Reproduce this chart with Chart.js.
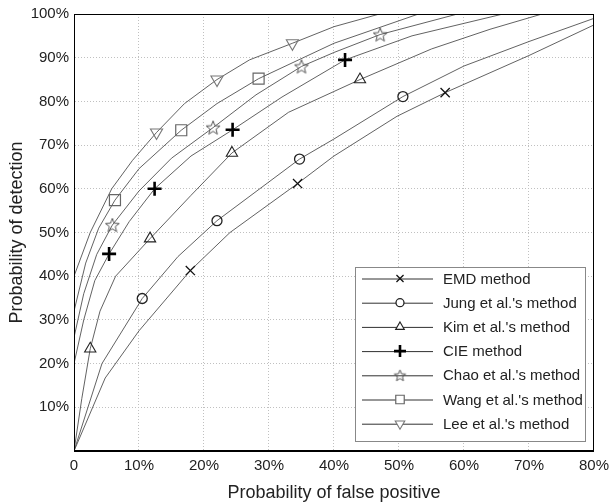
<!DOCTYPE html>
<html>
<head>
<meta charset="utf-8">
<script src="https://cdn.jsdelivr.net/npm/chart.js@4/dist/chart.umd.min.js"></script>
<style>
  html, body { margin: 0; padding: 0; background: #fff; }
</style>
</head>
<body>
<canvas id="roc" width="615" height="504"></canvas>
<script>
// ROC curves: probability of false positive (%) vs probability of detection (%)
const emdFP  = [0, 4.8, 10, 17.9, 24, 34.4, 40, 49.7, 57.1, 70, 80];
const emdPD  = [0, 16.7, 27.5, 41.3, 50, 61.2, 67.5, 76.6, 82, 90.5, 97.5];
const emdMarks = [3, 5, 8];

const jungFP = [0, 4.3, 10.5, 16, 22, 34.7, 40, 50.6, 60, 70, 80];
const jungPD = [0, 20, 34.9, 44.5, 52.7, 66.8, 71.4, 81.1, 88.1, 93.7, 99];
const jungMarks = [2, 4, 5, 7];

const kimFP = [0, 1.2, 2.5, 4, 6.4, 11.7, 18, 24.3, 33, 44, 55, 64, 72];
const kimPD = [0, 12, 23.4, 32, 40, 48.6, 58.5, 68.2, 77.5, 85, 92, 96.5, 100];
const kimMarks = [2, 5, 7, 9];

const cieFP = [0, 1.5, 3.2, 5.4, 8.5, 12.4, 18, 24.4, 32, 41.7, 52, 66];
const ciePD = [20, 30, 39, 45.1, 52.5, 60, 67.5, 73.5, 81, 89.5, 95, 100];
const cieMarks = [3, 5, 7, 9];

const chaoFP = [0, 1.5, 3.5, 5.9, 10, 15, 21.4, 28, 35, 40, 47.1, 59];
const chaoPD = [26, 36, 45, 51.7, 59.5, 67, 74, 81.5, 88, 91.2, 95.3, 100];
const chaoMarks = [3, 6, 8, 10];

const wangFP = [0, 1.8, 3.8, 6.3, 10, 16.5, 22, 28.4, 40, 53];
const wangPD = [32, 43, 51, 57.4, 64.6, 73.4, 79.5, 85.2, 93.3, 100];
const wangMarks = [3, 5, 7];

const leeFP = [0, 2.5, 5.8, 9, 12.7, 17, 22, 27, 33.6, 40, 47];
const leePD = [40, 50, 60, 66.5, 72.9, 79.5, 85, 89.5, 93.3, 97.1, 100];
const leeMarks = [4, 6, 8];

const xTicks = [0, 10, 20, 30, 40, 50, 60, 70, 80];
const yTicks = [10, 20, 30, 40, 50, 60, 70, 80, 90, 100];

// outline five-point star used as a point style
function makeStar(color, outer, inner) {
  const size = Math.ceil(outer * 2 + 3);
  const c = document.createElement('canvas');
  c.width = size; c.height = size;
  const g = c.getContext('2d');
  g.strokeStyle = color;
  g.lineWidth = 1;
  g.beginPath();
  for (let i = 0; i < 10; i++) {
    const r = i % 2 === 0 ? outer : inner;
    const a = -Math.PI / 2 + i * Math.PI / 5;
    const px = size / 2 + r * Math.cos(a), py = size / 2 + 0.6 + r * Math.sin(a);
    if (i === 0) g.moveTo(px, py); else g.lineTo(px, py);
  }
  g.closePath();
  g.stroke();
  return c;
}
const starImg = makeStar('#555', 7.3, 3.1);
const smallStar = makeStar('#555', 6, 2.6);

function series(label, fp, pd, marks, m) {
  return {
    label: label,
    data: fp.map((x, i) => ({ x: x, y: pd[i] })),
    borderColor: '#505050',
    borderWidth: 0.9,
    tension: 0,
    pointStyle: m.style,
    pointRotation: m.rotation || 0,
    pointRadius: ctx => marks.includes(ctx.dataIndex) ? m.radius : 0,
    pointBorderColor: m.color,
    pointBackgroundColor: 'rgba(0,0,0,0)',
    pointBorderWidth: m.width,
    legendRadius: m.legendRadius
  };
}

const datasets = [
  series('EMD method', emdFP, emdPD, emdMarks, { style: 'crossRot', radius: 6.5, legendRadius: 5, color: '#111', width: 1.3 }),
  series("Jung et al.'s method", jungFP, jungPD, jungMarks, { style: 'circle', radius: 5, legendRadius: 4, color: '#222', width: 1.3 }),
  series("Kim et al.'s method", kimFP, kimPD, kimMarks, { style: 'triangle', radius: 6.5, legendRadius: 5, color: '#222', width: 1.1 }),
  series('CIE method', cieFP, ciePD, cieMarks, { style: 'cross', radius: 7, legendRadius: 6, color: '#000', width: 2.6 }),
  series("Chao et al.'s method", chaoFP, chaoPD, chaoMarks, { style: starImg, radius: 8, legendRadius: 6, color: '#555', width: 1 }),
  series("Wang et al.'s method", wangFP, wangPD, wangMarks, { style: 'rect', radius: 7.8, legendRadius: 6, color: '#666', width: 1.2 }),
  series("Lee et al.'s method", leeFP, leePD, leeMarks, { style: 'triangle', rotation: 180, radius: 7, legendRadius: 5.5, color: '#777', width: 1.1 })
];

const frameAndLegend = {
  id: 'frameAndLegend',
  afterDraw(chart) {
    const ctx = chart.ctx, a = chart.chartArea;
    ctx.save();
    // plot frame
    ctx.strokeStyle = '#000';
    ctx.lineWidth = 1;
    ctx.strokeRect(Math.round(a.left) + 0.5, Math.round(a.top) + 0.5,
      Math.round(a.right - a.left) - 1, Math.round(a.bottom - a.top) - 1);

    // legend box in the lower right corner
    const bw = 230, bh = 174;
    const bx = Math.round(a.right - 9 - bw), by = Math.round(a.bottom - 10 - bh);
    ctx.fillStyle = '#fff';
    ctx.fillRect(bx, by, bw, bh);
    ctx.strokeStyle = '#888';
    ctx.lineWidth = 1;
    ctx.strokeRect(bx + 0.5, by + 0.5, bw, bh);

    ctx.font = '15px "Liberation Sans", Arial, sans-serif';
    ctx.textBaseline = 'middle';
    chart.data.datasets.forEach((ds, i) => {
      const y = by + 11.5 + i * 24.2;
      ctx.strokeStyle = '#303030';
      ctx.lineWidth = 1;
      ctx.beginPath();
      ctx.moveTo(bx + 7, y + 0.5);
      ctx.lineTo(bx + 78, y + 0.5);
      ctx.stroke();
      ctx.strokeStyle = ds.pointBorderColor;
      ctx.fillStyle = '#fff';
      ctx.lineWidth = ds.pointBorderWidth;
      if (ds.pointStyle === starImg) {
        ctx.drawImage(smallStar, bx + 45 - smallStar.width / 2, y - smallStar.height / 2);
      } else {
        Chart.helpers.drawPoint(ctx, {
          pointStyle: ds.pointStyle,
          radius: ds.legendRadius,
          borderWidth: ds.pointBorderWidth,
          rotation: ds.pointRotation
        }, bx + 45, y);
      }
      ctx.fillStyle = '#222';
      ctx.fillText(ds.label, bx + 88, y + 1);
    });
    ctx.restore();
  }
};

const tickFont = { family: '"Liberation Sans", Arial, sans-serif', size: 15 };
const titleFont = { family: '"Liberation Sans", Arial, sans-serif', size: 18 };

new Chart(document.getElementById('roc'), {
  type: 'line',
  data: { datasets: datasets },
  options: {
    responsive: false,
    animation: false,
    devicePixelRatio: 1,
    layout: { padding: { top: 13, right: 18, left: 0, bottom: 0 } },
    plugins: {
      legend: { display: false },
      tooltip: { enabled: false }
    },
    scales: {
      x: {
        type: 'linear',
        min: 0,
        max: 80,
        afterBuildTicks: s => { s.ticks = xTicks.map(v => ({ value: v })); },
        afterFit: s => { s.height = 53; },
        ticks: {
          padding: 6,
          color: '#222',
          font: tickFont,
          maxRotation: 0,
          callback: v => v === 0 ? '0' : v + '%'
        },
        grid: { color: '#c0c0c0', lineWidth: 1, drawTicks: false },
        border: { color: '#000', dash: [1, 2] },
        title: {
          display: true,
          text: 'Probability of false positive',
          color: '#222',
          font: titleFont,
          padding: { top: 0, bottom: 0 }
        }
      },
      y: {
        type: 'linear',
        min: 0,
        max: 100,
        afterBuildTicks: s => { s.ticks = [0].concat(yTicks).map(v => ({ value: v })); },
        afterFit: s => { s.width = 74; },
        ticks: {
          padding: 5,
          color: '#222',
          font: tickFont,
          callback: v => v === 0 ? '' : v + '%'
        },
        grid: { color: '#c0c0c0', lineWidth: 1, drawTicks: false },
        border: { color: '#000', dash: [1, 2] },
        title: {
          display: true,
          text: 'Probability of detection',
          color: '#222',
          font: titleFont,
          padding: { top: 6, bottom: 0 }
        }
      }
    }
  },
  plugins: [frameAndLegend]
});
</script>
</body>
</html>
